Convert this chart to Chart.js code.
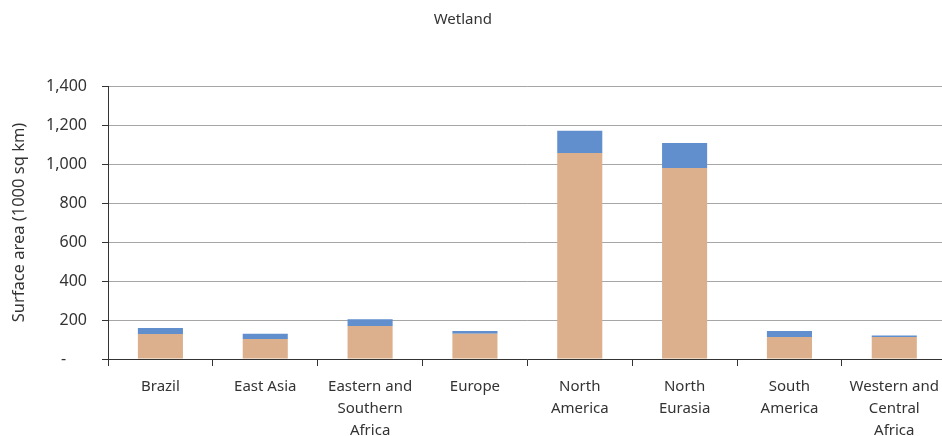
<!DOCTYPE html>
<html>
<head>
<meta charset="utf-8">
<script src="https://cdn.jsdelivr.net/npm/chart.js@4"></script>
<style>
  html, body { margin: 0; padding: 0; background: #fff; overflow: hidden; }
  /* the original plot runs a few pixels past the right edge of the picture */
  #wrap { width: 942px; height: 436px; overflow: hidden; }
</style>
</head>
<body>
<div id="wrap"><canvas id="chart" width="949" height="436"></canvas></div>
<script>
const regions = [
  "Brazil",
  "East Asia",
  ["Eastern and", "Southern", "Africa"],
  "Europe",
  ["North", "America"],
  ["North", "Eurasia"],
  ["South", "America"],
  ["Western and", "Central", "Africa"]
];
const baseArea = [128, 103, 169, 130, 1057, 980, 113, 113];
const extraArea = [31, 27, 35, 14, 113, 128, 31, 7];
const yTicks = [0, 200, 400, 600, 800, 1000, 1200, 1400];

const FONT = "Noto Sans";
const textColor = "#333";

const ctx = document.getElementById("chart").getContext("2d");
new Chart(ctx, {
  type: "bar",
  data: {
    labels: regions,
    datasets: [
      {
        label: "base",
        data: baseArea,
        backgroundColor: "#dcb08c",
        barPercentage: 0.43,
        categoryPercentage: 1
      },
      {
        label: "extra",
        data: extraArea,
        backgroundColor: "#618fcd",
        barPercentage: 0.43,
        categoryPercentage: 1
      }
    ]
  },
  options: {
    responsive: false,
    animation: false,
    layout: { padding: { left: 0, right: 0, top: 0, bottom: 0 } },
    plugins: {
      legend: { display: false },
      tooltip: { enabled: false },
      title: {
        display: true,
        // trailing spaces nudge the centred title left, as in the original
        text: "Wetland      ",
        color: textColor,
        font: { family: FONT, size: 15, weight: "normal" },
        padding: { top: 11, bottom: 57 }
      }
    },
    scales: {
      x: {
        stacked: true,
        offset: true,
        grid: {
          offset: true,
          drawOnChartArea: false,
          drawTicks: true,
          tickLength: 7,
          tickColor: "#333"
        },
        border: { color: "#333", width: 1 },
        ticks: {
          color: textColor,
          font: { family: FONT, size: 15, lineHeight: 1.45 },
          padding: 10,
          maxRotation: 0,
          autoSkip: false
        },
        afterFit: s => { s.height = 77; }
      },
      y: {
        stacked: true,
        min: 0,
        max: 1400,
        afterBuildTicks: s => { s.ticks = yTicks.map(v => ({ value: v })); },
        grid: {
          color: "#a6a6a6",
          lineWidth: 1,
          drawTicks: true,
          tickLength: 6,
          tickColor: "#333"
        },
        border: { color: "#333", width: 1 },
        ticks: {
          color: textColor,
          font: { family: FONT, size: 16 },
          padding: 15,
          callback: v => v === 0 ? "-     " : v.toLocaleString("en-US")
        },
        title: {
          display: true,
          text: "Surface area (1000 sq km)",
          color: textColor,
          font: { family: FONT, size: 16.5 },
          padding: { top: 9, bottom: 0 }
        },
        afterFit: s => { s.width = 108; }
      }
    }
  }
});
</script>
</body>
</html>
